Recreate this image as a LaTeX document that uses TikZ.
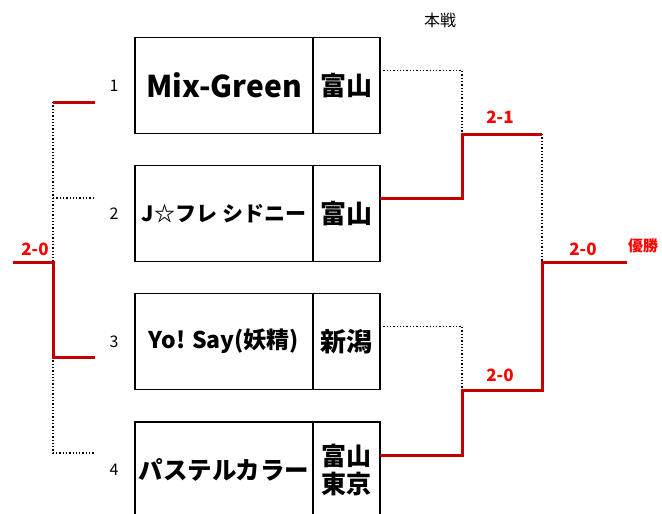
\documentclass[tikz,border=0pt]{standalone}
\usepackage{fontspec}
\setmainfont{Noto Sans CJK JP}
\usetikzlibrary{positioning,calc}
\definecolor{winred}{HTML}{C00000}
\definecolor{scorered}{HTML}{FF0000}
\tikzset{
  team/.style={draw,line width=1.6pt,outer sep=0pt,minimum width=178pt,minimum height=96pt,inner sep=0pt,font=\bfseries},
  pref/.style={draw,line width=1.6pt,outer sep=0pt,minimum width=67pt,minimum height=96pt,inner sep=0pt,align=center,font=\bfseries\fontsize{26}{30}\selectfont},
  seed/.style={font=\fontsize{16}{19}\selectfont},
  win/.style={draw=winred,line width=3pt},
  lose/.style={draw,line width=1.3pt,dotted},
  score/.style={text=scorered,font=\bfseries\fontsize{17}{20}\selectfont},
}
\begin{document}
\begin{tikzpicture}[x=1pt,y=-1pt]
\useasboundingbox (0,0) rectangle (662,514);
% teams
\node[team,font=\bfseries\fontsize{30}{34}\selectfont] (t1) at (224,85.5) {Mix-Green};
\node[pref,right=0pt of t1] (p1) {富山};
\node[team,font=\bfseries\fontsize{21}{25}\selectfont] (t2) at (224,213.5) {J☆フレ シドニー};
\node[team,font=\bfseries\fontsize{23}{27}\selectfont] (t3) at (224,341.5) {Yo! Say(妖精)};
\node[pref,right=0pt of t2] (p2) {富山};
\node[pref,right=0pt of t3] (p3) {新潟};
\node[team,font=\bfseries\fontsize{24.5}{28}\selectfont] (t4) at (224,470) {パステルカラー};
\node[pref,right=0pt of t4,font=\bfseries\fontsize{25}{28}\selectfont] (p4) {富山\\東京};
\node[seed,left=13pt of t1] (n1) {1};
\node[seed,left=13pt of t2] (n2) {2};
\node[seed,left=13pt of t3] (n3) {3};
\node[seed,left=13pt of t4] (n4) {4};
% left bracket
\coordinate (L1) at (95,102);
\coordinate (L2) at (95,198);
\coordinate (L3) at (95,357);
\coordinate (L4) at (95,453);
\coordinate (LJ) at (53,262);
\coordinate (Lout) at (13,262);
\draw[lose] (L1 -| LJ) -- (LJ);
\draw[lose] (L2 -| LJ) -- (L2);
\draw[lose] (L3 -| LJ) -- (L4 -| LJ) -- (L4);
\draw[win] (L1 -| LJ) -- (L1);
\draw[win] (Lout) -- (LJ) -- (L3 -| LJ) -- (L3);
\node[score] (s0) at (35,249) {2-0};
% right bracket
\coordinate (m1) at (462,134);
\coordinate (m2) at (462,390);
\coordinate (f) at (542,262);
\coordinate (champ) at (627,262);
\draw[lose] ([yshift=15pt]p1.east) -| (m1);
\draw[lose] ([yshift=15pt]p3.east) -| (m2);
\draw[lose] (m1 -| f) -- (f);
\draw[win] ([yshift=15pt]p2.east) -| (m1) -- (m1 -| f);
\draw[win] ([yshift=15pt]p4.east) -| (m2) -- (m2 -| f) -- (f) -- (champ);
\node[score] (s1) at (500,117) {2-1};
\node[score] (s2) at (500,375) {2-0};
\node[score] (s3) at (583,249) {2-0};
\node[score,font=\bfseries\fontsize{15}{17}\selectfont] (win) at (643,246) {優勝};
\node[font=\fontsize{16}{18}\selectfont] (title) at (440,20) {本戦};
\end{tikzpicture}
\end{document}
